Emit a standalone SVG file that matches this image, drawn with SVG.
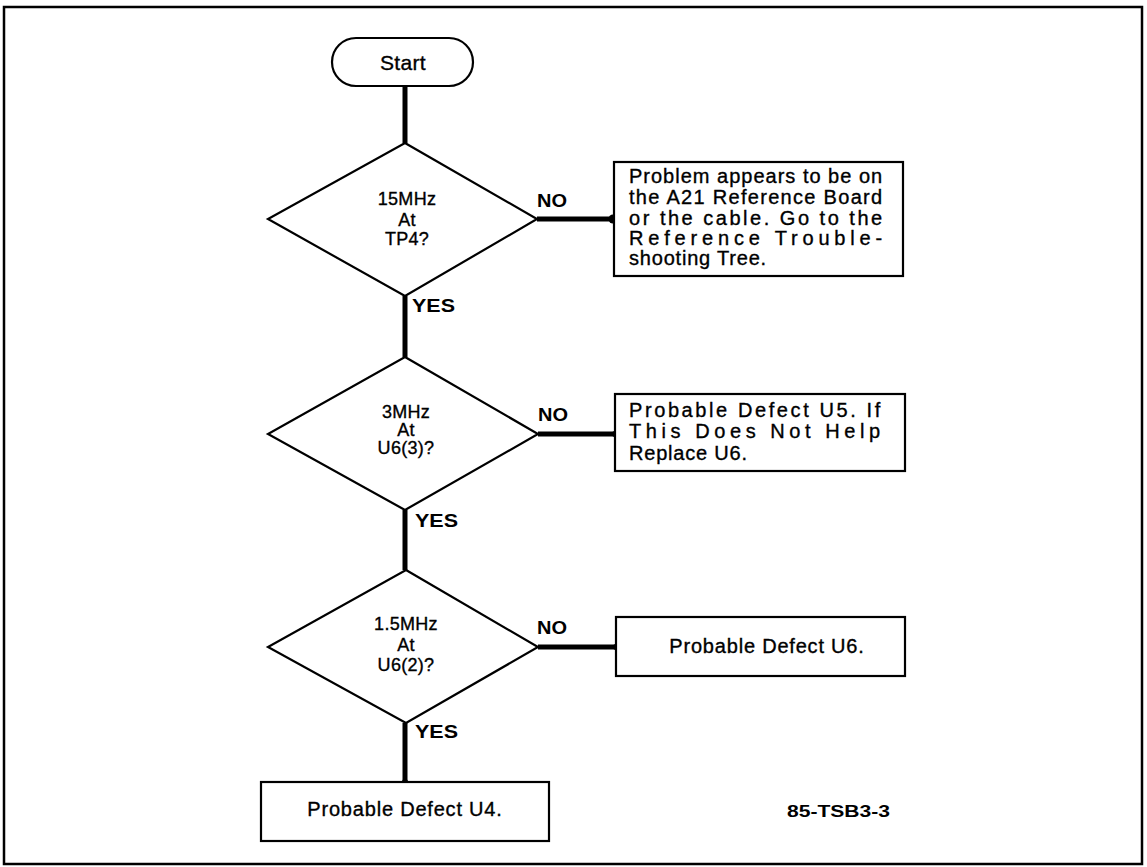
<svg xmlns="http://www.w3.org/2000/svg" width="1147" height="867" viewBox="0 0 1147 867">
<style>
.shape{fill:#fff;stroke:#000;stroke-width:2.2}
.conn{stroke:#000;stroke-width:5;fill:none}
.t{font-family:"Liberation Sans",Arial,sans-serif;font-size:20px;letter-spacing:0.8px;fill:#000;stroke:#000;stroke-width:0.35}
.d{font-family:"Liberation Sans",Arial,sans-serif;font-size:18px;letter-spacing:0.3px;fill:#000;stroke:#000;stroke-width:0.35;text-anchor:middle}
.lbl{font-family:"Liberation Sans",Arial,sans-serif;font-size:18px;font-weight:bold;fill:#000}
</style>
<rect x="0" y="0" width="1147" height="867" fill="#fff"/>
<rect x="4" y="7" width="1138" height="857" fill="none" stroke="#000" stroke-width="2.5"/>
<g id="connectors">
<line class="conn" x1="405" y1="86" x2="405" y2="143"/>
<line class="conn" x1="405" y1="296" x2="405" y2="357"/>
<line class="conn" x1="405" y1="510" x2="405" y2="570"/>
<line class="conn" x1="405" y1="723" x2="405" y2="782"/>
<line class="conn" x1="537" y1="219" x2="613" y2="219"/>
<line class="conn" x1="538" y1="434" x2="615" y2="434"/>
<line class="conn" x1="538" y1="647" x2="616" y2="647"/>
<circle cx="613" cy="219" r="4.5"/>
<circle cx="615" cy="434" r="3"/>
<circle cx="616" cy="647" r="3"/>
<circle cx="405" cy="782" r="3"/>
<text class="lbl" x="537" y="207" textLength="30" lengthAdjust="spacingAndGlyphs">NO</text>
<text class="lbl" x="538" y="421" textLength="30" lengthAdjust="spacingAndGlyphs">NO</text>
<text class="lbl" x="537" y="634" textLength="30" lengthAdjust="spacingAndGlyphs">NO</text>
<text class="lbl" x="412" y="312" textLength="43" lengthAdjust="spacingAndGlyphs">YES</text>
<text class="lbl" x="415" y="527" textLength="43" lengthAdjust="spacingAndGlyphs">YES</text>
<text class="lbl" x="415" y="738" textLength="43" lengthAdjust="spacingAndGlyphs">YES</text>
</g>
<g id="start">
<rect class="shape" x="332" y="38" width="141" height="48" rx="24"/>
<text class="d" x="403" y="70" style="font-size:21px">Start</text>
</g>
<g id="q1">
<polygon class="shape" points="405,143 537,219 405,296 268,219"/>
<text class="d" x="407" y="205">15MHz</text>
<text class="d" x="407" y="226">At</text>
<text class="d" x="407" y="245">TP4?</text>
</g>
<g id="q2">
<polygon class="shape" points="405,357 538,434 405,510 268,434"/>
<text class="d" x="406" y="418">3MHz</text>
<text class="d" x="406" y="436">At</text>
<text class="d" x="406" y="454">U6(3)?</text>
</g>
<g id="q3">
<polygon class="shape" points="406,570 538,647 406,723 268,647"/>
<text class="d" x="406" y="630">1.5MHz</text>
<text class="d" x="406" y="651">At</text>
<text class="d" x="406" y="671">U6(2)?</text>
</g>
<g id="box1">
<rect class="shape" x="614" y="162" width="289" height="114"/>
<text class="t" x="629" y="183" textLength="254" lengthAdjust="spacing">Problem appears to be on</text>
<text class="t" x="629" y="204" textLength="254" lengthAdjust="spacing">the A21 Reference Board</text>
<text class="t" x="629" y="225" textLength="254" lengthAdjust="spacing">or the cable. Go to the</text>
<text class="t" x="629" y="245" textLength="254" lengthAdjust="spacing">Reference Trouble-</text>
<text class="t" x="629" y="265">shooting Tree.</text>
</g>
<g id="box2">
<rect class="shape" x="615" y="394" width="290" height="77"/>
<text class="t" x="629" y="417" textLength="252" lengthAdjust="spacing">Probable Defect U5. If</text>
<text class="t" x="629" y="438" textLength="252" lengthAdjust="spacing">This Does Not Help</text>
<text class="t" x="629" y="460">Replace U6.</text>
</g>
<g id="box3">
<rect class="shape" x="616" y="617" width="289" height="59"/>
<text class="t" x="767" y="653" text-anchor="middle">Probable Defect U6.</text>
</g>
<g id="box4">
<rect class="shape" x="261" y="782" width="288" height="59"/>
<text class="t" x="405" y="816" text-anchor="middle">Probable Defect U4.</text>
</g>
<text class="lbl" x="787" y="817" style="font-size:16px" textLength="103" lengthAdjust="spacingAndGlyphs">85-TSB3-3</text>
</svg>
